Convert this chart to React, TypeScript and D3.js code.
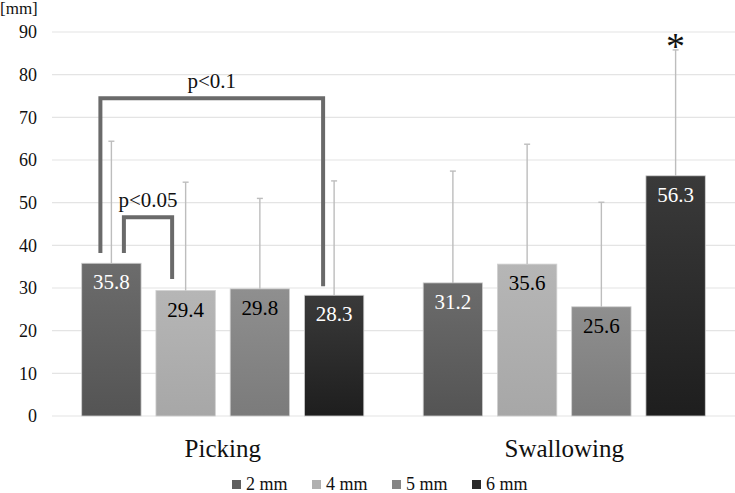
import { useEffect, useRef } from "react";
import * as d3 from "d3";

// categories and series
const categories = ["Picking", "Swallowing"];
const series = ["2 mm", "4 mm", "5 mm", "6 mm"];

// mean values per series (Picking, Swallowing)
const mean2 = [35.8, 31.2];
const mean4 = [29.4, 35.6];
const mean5 = [29.8, 25.6];
const mean6 = [28.3, 56.3];

// upper end of the error bars
const err2 = [64.4, 57.4];
const err4 = [54.8, 63.7];
const err5 = [51.0, 50.1];
const err6 = [55.1, 85.8];

const yTicks = [0, 10, 20, 30, 40, 50, 60, 70, 80, 90];

// significance brackets (within Picking)
const bracketLabels = ["p<0.1", "p<0.05"];
const bracketFrom = ["2 mm", "2 mm"];
const bracketTo = ["6 mm", "4 mm"];
const bracketTop = [74.5, 46.6];
const bracketLeftEnd = [38.2, 38.2];
const bracketRightEnd = [30.4, 32.1];

const W = 735;
const H = 493;

const colorsTop = ["#6c6c6c", "#b6b6b6", "#8f8f8f", "#3a3a3a"];
const colorsBottom = ["#545454", "#a7a7a7", "#7b7b7b", "#1e1e1e"];
const labelColors = ["#ffffff", "#000000", "#000000", "#ffffff"];
const legendColors = ["#5f5f5f", "#b0b0b0", "#858585", "#2a2a2a"];

const FONT =
  '"Times New Roman", Times, "Liberation Serif", Tinos, "Noto Serif", "Nimbus Roman", FreeSerif, "DejaVu Serif", serif';

const App = () => {
  const svgRef = useRef<SVGSVGElement | null>(null);

  useEffect(() => {
    const svg = d3.select(svgRef.current);
    svg.selectAll("*").remove();

    const means = [mean2, mean4, mean5, mean6];
    const errs = [err2, err4, err5, err6];
    const rows = categories.flatMap((c, ci) =>
      series.map((s, si) => ({ cat: c, s, si, v: means[si][ci], e: errs[si][ci] }))
    );

    const y = d3.scaleLinear().domain([0, 90]).range([416, 32]);
    const x0 = d3.scaleBand<string>().domain(categories).range([52, 735]).padding(0);
    const x1 = d3
      .scaleBand<string>()
      .domain(series)
      .range([0, x0.bandwidth()])
      .paddingInner(0.2)
      .paddingOuter(0.4);

    // gradients
    const defs = svg.append("defs");
    series.forEach((s, i) => {
      const g = defs
        .append("linearGradient")
        .attr("id", `grad${i}`)
        .attr("x1", 0)
        .attr("y1", 0)
        .attr("x2", 0)
        .attr("y2", 1);
      g.append("stop").attr("offset", "0%").attr("stop-color", colorsTop[i]);
      g.append("stop").attr("offset", "100%").attr("stop-color", colorsBottom[i]);
    });

    // gridlines
    svg
      .append("g")
      .selectAll("line")
      .data(yTicks)
      .join("line")
      .attr("x1", 52)
      .attr("x2", 735)
      .attr("y1", (d) => y(d))
      .attr("y2", (d) => y(d))
      .attr("stroke", "#e4e4e4")
      .attr("stroke-width", 1.2);

    // y tick labels
    svg
      .append("g")
      .selectAll("text")
      .data(yTicks)
      .join("text")
      .attr("x", 37)
      .attr("y", (d) => y(d))
      .attr("dy", "0.35em")
      .attr("text-anchor", "end")
      .attr("font-size", 18)
      .attr("fill", "#111")
      .text((d) => d);

    svg
      .append("text")
      .attr("x", 0)
      .attr("y", 14)
      .attr("font-size", 17)
      .attr("fill", "#111")
      .text("[mm]");

    const bx = (d: { cat: string; s: string }) => x0(d.cat)! + x1(d.s)!;

    // bars
    svg
      .append("g")
      .selectAll("rect")
      .data(rows)
      .join("rect")
      .attr("x", (d) => bx(d))
      .attr("y", (d) => y(d.v))
      .attr("width", x1.bandwidth())
      .attr("height", (d) => y(0) - y(d.v))
      .attr("fill", (d) => `url(#grad${d.si})`)
      .attr("stroke", "#d0d0d0")
      .attr("stroke-width", 0.8);

    // error bars
    const eg = svg.append("g").attr("stroke", "#bdbdbd").attr("stroke-width", 1.4);
    eg.selectAll("line.v")
      .data(rows)
      .join("line")
      .attr("class", "v")
      .attr("x1", (d) => bx(d) + x1.bandwidth() / 2)
      .attr("x2", (d) => bx(d) + x1.bandwidth() / 2)
      .attr("y1", (d) => y(d.v))
      .attr("y2", (d) => y(d.e));
    eg.selectAll("line.c")
      .data(rows)
      .join("line")
      .attr("class", "c")
      .attr("x1", (d) => bx(d) + x1.bandwidth() / 2 - 3)
      .attr("x2", (d) => bx(d) + x1.bandwidth() / 2 + 3)
      .attr("y1", (d) => y(d.e))
      .attr("y2", (d) => y(d.e));

    // value labels
    svg
      .append("g")
      .selectAll("text")
      .data(rows)
      .join("text")
      .attr("x", (d) => bx(d) + x1.bandwidth() / 2)
      .attr("y", (d) => y(d.v) + 26)
      .attr("text-anchor", "middle")
      .attr("font-size", 21)
      .attr("fill", (d) => labelColors[d.si])
      .text((d) => d.v.toFixed(1));

    // brackets
    const cx = (s: string) => x0("Picking")! + x1(s)! + x1.bandwidth() / 2;
    bracketLabels.forEach((lab, i) => {
      const lx = cx(bracketFrom[i]) + (i === 0 ? -11 : 12.5);
      const rx = cx(bracketTo[i]) + (i === 0 ? -11 : -13.5);
      const path = d3.path();
      path.moveTo(lx, y(bracketLeftEnd[i]));
      path.lineTo(lx, y(bracketTop[i]));
      path.lineTo(rx, y(bracketTop[i]));
      path.lineTo(rx, y(bracketRightEnd[i]));
      svg
        .append("path")
        .attr("d", path.toString())
        .attr("fill", "none")
        .attr("stroke", "#6a6a6a")
        .attr("stroke-width", 4);
      svg
        .append("text")
        .attr("x", (lx + rx) / 2)
        .attr("y", y(bracketTop[i]) - 10)
        .attr("text-anchor", "middle")
        .attr("font-size", 21)
        .attr("fill", "#111")
        .text(lab);
    });

    // asterisk over Swallowing 6 mm
    svg
      .append("text")
      .attr("x", x0("Swallowing")! + x1("6 mm")! + x1.bandwidth() / 2)
      .attr("y", y(err6[1]) + 9)
      .attr("text-anchor", "middle")
      .attr("font-size", 38)
      .attr("fill", "#111")
      .text("*");

    // category labels
    svg
      .append("g")
      .selectAll("text")
      .data(categories)
      .join("text")
      .attr("x", (d) => x0(d)! + x0.bandwidth() / 2)
      .attr("y", 457)
      .attr("text-anchor", "middle")
      .attr("font-size", 25)
      .attr("fill", "#111")
      .text((d) => d);

    // legend
    const legend = svg
      .append("g")
      .selectAll("g")
      .data(series)
      .join("g")
      .attr("transform", (_, i) => `translate(${232 + i * 80}, 480)`);
    legend
      .append("rect")
      .attr("width", 9)
      .attr("height", 9)
      .attr("fill", (_, i) => legendColors[i]);
    legend
      .append("text")
      .attr("x", 14)
      .attr("y", 10)
      .attr("font-size", 18)
      .attr("fill", "#111")
      .text((d) => d);
  }, []);

  return (
    <div style={{ position: "fixed", left: 0, top: 0, background: "#fff" }}>
      <svg
        ref={svgRef}
        width={W}
        height={H}
        style={{ display: "block", fontFamily: FONT }}
      />
    </div>
  );
};

export default App;
